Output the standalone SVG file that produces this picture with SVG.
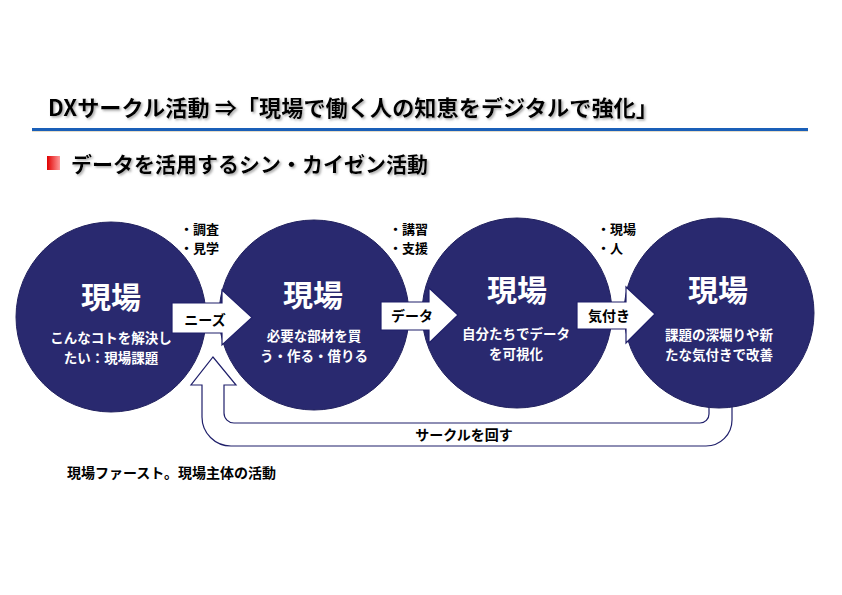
<svg xmlns="http://www.w3.org/2000/svg" width="842" height="595" viewBox="0 0 842 595">
  <defs>
    <linearGradient id="redSq" x1="0" y1="0" x2="1" y2="0">
      <stop offset="0" stop-color="#e00000"/>
      <stop offset="1" stop-color="#ff9a9a"/>
    </linearGradient>
    <filter id="shadow" x="-5%" y="-30%" width="110%" height="160%">
      <feDropShadow dx="1.5" dy="1.5" stdDeviation="0.8" flood-color="#808080" flood-opacity="0.7"/>
    </filter>
  </defs>
  <style>
    text { font-family: "Noto Sans CJK JP", "Noto Sans", sans-serif; font-weight: bold; }
    .title { font-size: 22px; fill: #000; }
    .sub { font-size: 21px; fill: #000; }
    .node circle { fill: #29296f; stroke: #22225f; stroke-width: 1; }
    .big { font-size: 30px; fill: #fff; text-anchor: middle; }
    .small { font-size: 13.5px; fill: #fff; text-anchor: middle; }
    .arrow { fill: #fff; stroke: #1f1f6a; stroke-width: 1.2; stroke-linejoin: miter; }
    .alabel { font-size: 14px; fill: #000; text-anchor: middle; }
    .note { font-size: 13px; fill: #000; }
    .cap { font-size: 14px; fill: #000; }
  </style>
  <rect width="842" height="595" fill="#fff"/>

  <g id="header">
    <text class="title" x="48" y="106" dominant-baseline="central" filter="url(#shadow)" textLength="610" lengthAdjust="spacingAndGlyphs">DXサークル活動 ⇒「現場で働く人の知恵をデジタルで強化」</text>
    <rect x="32" y="128" width="776" height="3" fill="#1a5fb8"/>
    <rect x="32" y="131" width="776" height="1" fill="#e6dcc8"/>
    <rect x="47" y="156" width="13" height="14" fill="url(#redSq)"/>
    <text class="sub" x="71" y="163" dominant-baseline="central" filter="url(#shadow)" textLength="357" lengthAdjust="spacingAndGlyphs">データを活用するシン・カイゼン活動</text>
  </g>

  <g id="connectors">
    <path id="loop-arrow" class="arrow" d="M732 395 L732 420 A26 26 0 0 1 706 446 L231 446 A29 29 0 0 1 202 417 L202 385 L191 385 L213 357 L236 385 L224 385 L224 413 A10 10 0 0 0 234 423 L700 423 A9 9 0 0 0 709 414 L709 395"/>
  </g>

  <g id="node1" class="node">
    <circle cx="111" cy="317" r="95"/>
    <text class="big" x="111" y="295" dominant-baseline="central">現場</text>
    <text class="small" x="111" y="337" dominant-baseline="central">こんなコトを解決し</text>
    <text class="small" x="111" y="357" dominant-baseline="central">たい：現場課題</text>
  </g>
  <g id="node2" class="node">
    <circle cx="314" cy="315" r="95"/>
    <text class="big" x="313" y="293" dominant-baseline="central">現場</text>
    <text class="small" x="314" y="335" dominant-baseline="central">必要な部材を買</text>
    <text class="small" x="314" y="355" dominant-baseline="central">う・作る・借りる</text>
  </g>
  <g id="node3" class="node">
    <circle cx="517" cy="313" r="95"/>
    <text class="big" x="517" y="288" dominant-baseline="central">現場</text>
    <text class="small" x="516" y="333" dominant-baseline="central">自分たちでデータ</text>
    <text class="small" x="516" y="353" dominant-baseline="central">を可視化</text>
  </g>
  <g id="node4" class="node">
    <circle cx="719" cy="313" r="95"/>
    <text class="big" x="718" y="288" dominant-baseline="central">現場</text>
    <text class="small" x="719" y="334" dominant-baseline="central">課題の深堀りや新</text>
    <text class="small" x="719" y="354" dominant-baseline="central">たな気付きで改善</text>
  </g>

  <g id="arrows">
    <g id="arrow-needs">
      <path class="arrow" d="M172 303 L222 303 L222 290 L252 317.5 L222 345 L222 333 L172 333 Z"/>
      <text class="alabel" x="205" y="319" dominant-baseline="central">ニーズ</text>
    </g>
    <g id="arrow-data">
      <path class="arrow" d="M381 302 L429 302 L429 288 L458 315 L429 343 L429 330 L381 330 Z"/>
      <text class="alabel" x="412" y="315" dominant-baseline="central">データ</text>
    </g>
    <g id="arrow-kizuki">
      <path class="arrow" d="M577 302 L626 302 L626 287 L655 314 L626 343 L626 329 L577 329 Z"/>
      <text class="alabel" x="609" y="315" dominant-baseline="central">気付き</text>
    </g>
  </g>

  <g id="notes">
    <text class="note" x="180" y="228" dominant-baseline="central">・調査</text>
    <text class="note" x="180" y="247" dominant-baseline="central">・見学</text>
    <text class="note" x="389" y="228" dominant-baseline="central">・講習</text>
    <text class="note" x="389" y="247" dominant-baseline="central">・支援</text>
    <text class="note" x="597" y="228" dominant-baseline="central">・現場</text>
    <text class="note" x="597" y="247" dominant-baseline="central">・人</text>
  </g>

  <g id="captions">
    <text class="cap" x="464" y="434" dominant-baseline="central" text-anchor="middle">サークルを回す</text>
    <text class="cap" x="67" y="472" dominant-baseline="central">現場ファースト。現場主体の活動</text>
  </g>
</svg>
